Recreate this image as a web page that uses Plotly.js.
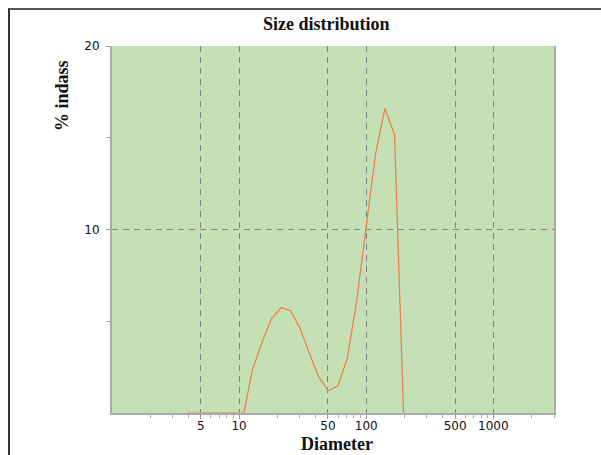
<!DOCTYPE html>
<html>
<head>
<meta charset="utf-8">
<script src="https://cdn.plot.ly/plotly-3.0.1.min.js"></script>
<style>
html,body{margin:0;padding:0;background:#fff;}
#chart{position:absolute;left:0;top:0;width:601px;height:455px;}
#frame{position:absolute;left:8px;top:8px;width:600px;height:460px;border-left:2px solid #333;border-top:2px solid #555;pointer-events:none;}
</style>
</head>
<body>
<div id="chart"></div>
<div id="frame"></div>
<script>
// Diameter (log scale) and % in class
const diameters = [3.9, 4.6, 5.5, 6.5, 7.7, 9.2, 10.9, 12.7, 15.2, 18.0, 21.5, 25.4, 30.0, 35.4, 41.9, 50.3, 59.8, 70.9, 83.6, 98.8, 118.6, 140.2, 167.0, 196.5];
const percents  = [0, 0, 0, 0, 0, 0, 0, 2.34, 3.88, 5.15, 5.75, 5.57, 4.64, 3.33, 2.01, 1.21, 1.48, 2.97, 5.97, 9.9, 14.14, 16.59, 15.17, 0];

const xTickVals = [5, 10, 50, 100, 500, 1000];
const xTickText = ['5', '10', '50', '100', '500', '1000'];
const xMinorVals = [2,3,4,5,6,7,8,9,20,30,40,60,70,80,90,200,300,400,600,700,800,900,2000,3000];
const yTickVals = [10, 20];
const yTickText = ['10', '20'];
const yMinorVals = [5, 15];

const titleText = 'Size distribution';
const xTitle = 'Diameter';
const yTitle = '% indass';

const serif = 'Liberation Serif, Times New Roman, serif';
const sans = 'DejaVu Sans, Verdana, sans-serif';

const trace = {
  x: diameters, y: percents, type: 'scatter', mode: 'lines',
  line: {color: '#ee7a4c', width: 1.2}, hoverinfo: 'skip', cliponaxis: false
};

const layout = {
  width: 601, height: 455,
  margin: {l: 112, r: 47, t: 46, b: 42},
  paper_bgcolor: '#ffffff', plot_bgcolor: '#c5e0b5',
  showlegend: false,
  xaxis: {
    type: 'log', range: [0, Math.log10(3000)],
    tickmode: 'array', tickvals: xTickVals, ticktext: xTickText,
    ticks: 'outside', ticklen: 4, tickcolor: '#999', tickwidth: 1,
    ticklabelstandoff: -3,
    showgrid: true, gridcolor: '#808080', griddash: '6px,5px', gridwidth: 1,
    showline: true, linecolor: '#aaa', linewidth: 2, mirror: false,
    zeroline: false, layer: 'below traces',
    tickfont: {family: sans, size: 12, color: '#111'},
    minor: {tickmode: 'array', tickvals: xMinorVals, ticks: 'outside', ticklen: 3, tickcolor: '#aaa', showgrid: false}
  },
  yaxis: {
    range: [0, 20],
    tickmode: 'array', tickvals: yTickVals, ticktext: yTickText,
    ticks: 'outside', ticklen: 4, tickcolor: '#999', tickwidth: 1,
    ticklabelstandoff: 4,
    showgrid: true, gridcolor: '#808080', griddash: '6px,5px', gridwidth: 1,
    showline: true, linecolor: '#aaa', linewidth: 2, mirror: true,
    zeroline: false, layer: 'below traces',
    tickfont: {family: sans, size: 12, color: '#111'},
    minor: {tickmode: 'array', tickvals: yMinorVals, ticks: 'outside', ticklen: 3, tickcolor: '#999', showgrid: false}
  },
  annotations: [
    {text: '<b>' + titleText + '</b>', xref: 'paper', yref: 'paper', x: 0.485, y: 1, yshift: 22,
     xanchor: 'center', yanchor: 'middle', showarrow: false, font: {family: serif, size: 18, color: '#111'}},
    {text: '<b>' + xTitle + '</b>', xref: 'paper', yref: 'paper', x: 0.508, y: 0, yshift: -31,
     xanchor: 'center', yanchor: 'middle', showarrow: false, font: {family: serif, size: 18, color: '#111'}},
    {text: '<b>' + yTitle + '</b>', xref: 'paper', yref: 'paper', x: 0, xshift: -50, y: 0.864,
     xanchor: 'center', yanchor: 'middle', textangle: -90, showarrow: false, font: {family: serif, size: 18, color: '#111'}}
  ]
};

Plotly.newPlot('chart', [trace], layout, {displayModeBar: false, staticPlot: true});
</script>
</body>
</html>
